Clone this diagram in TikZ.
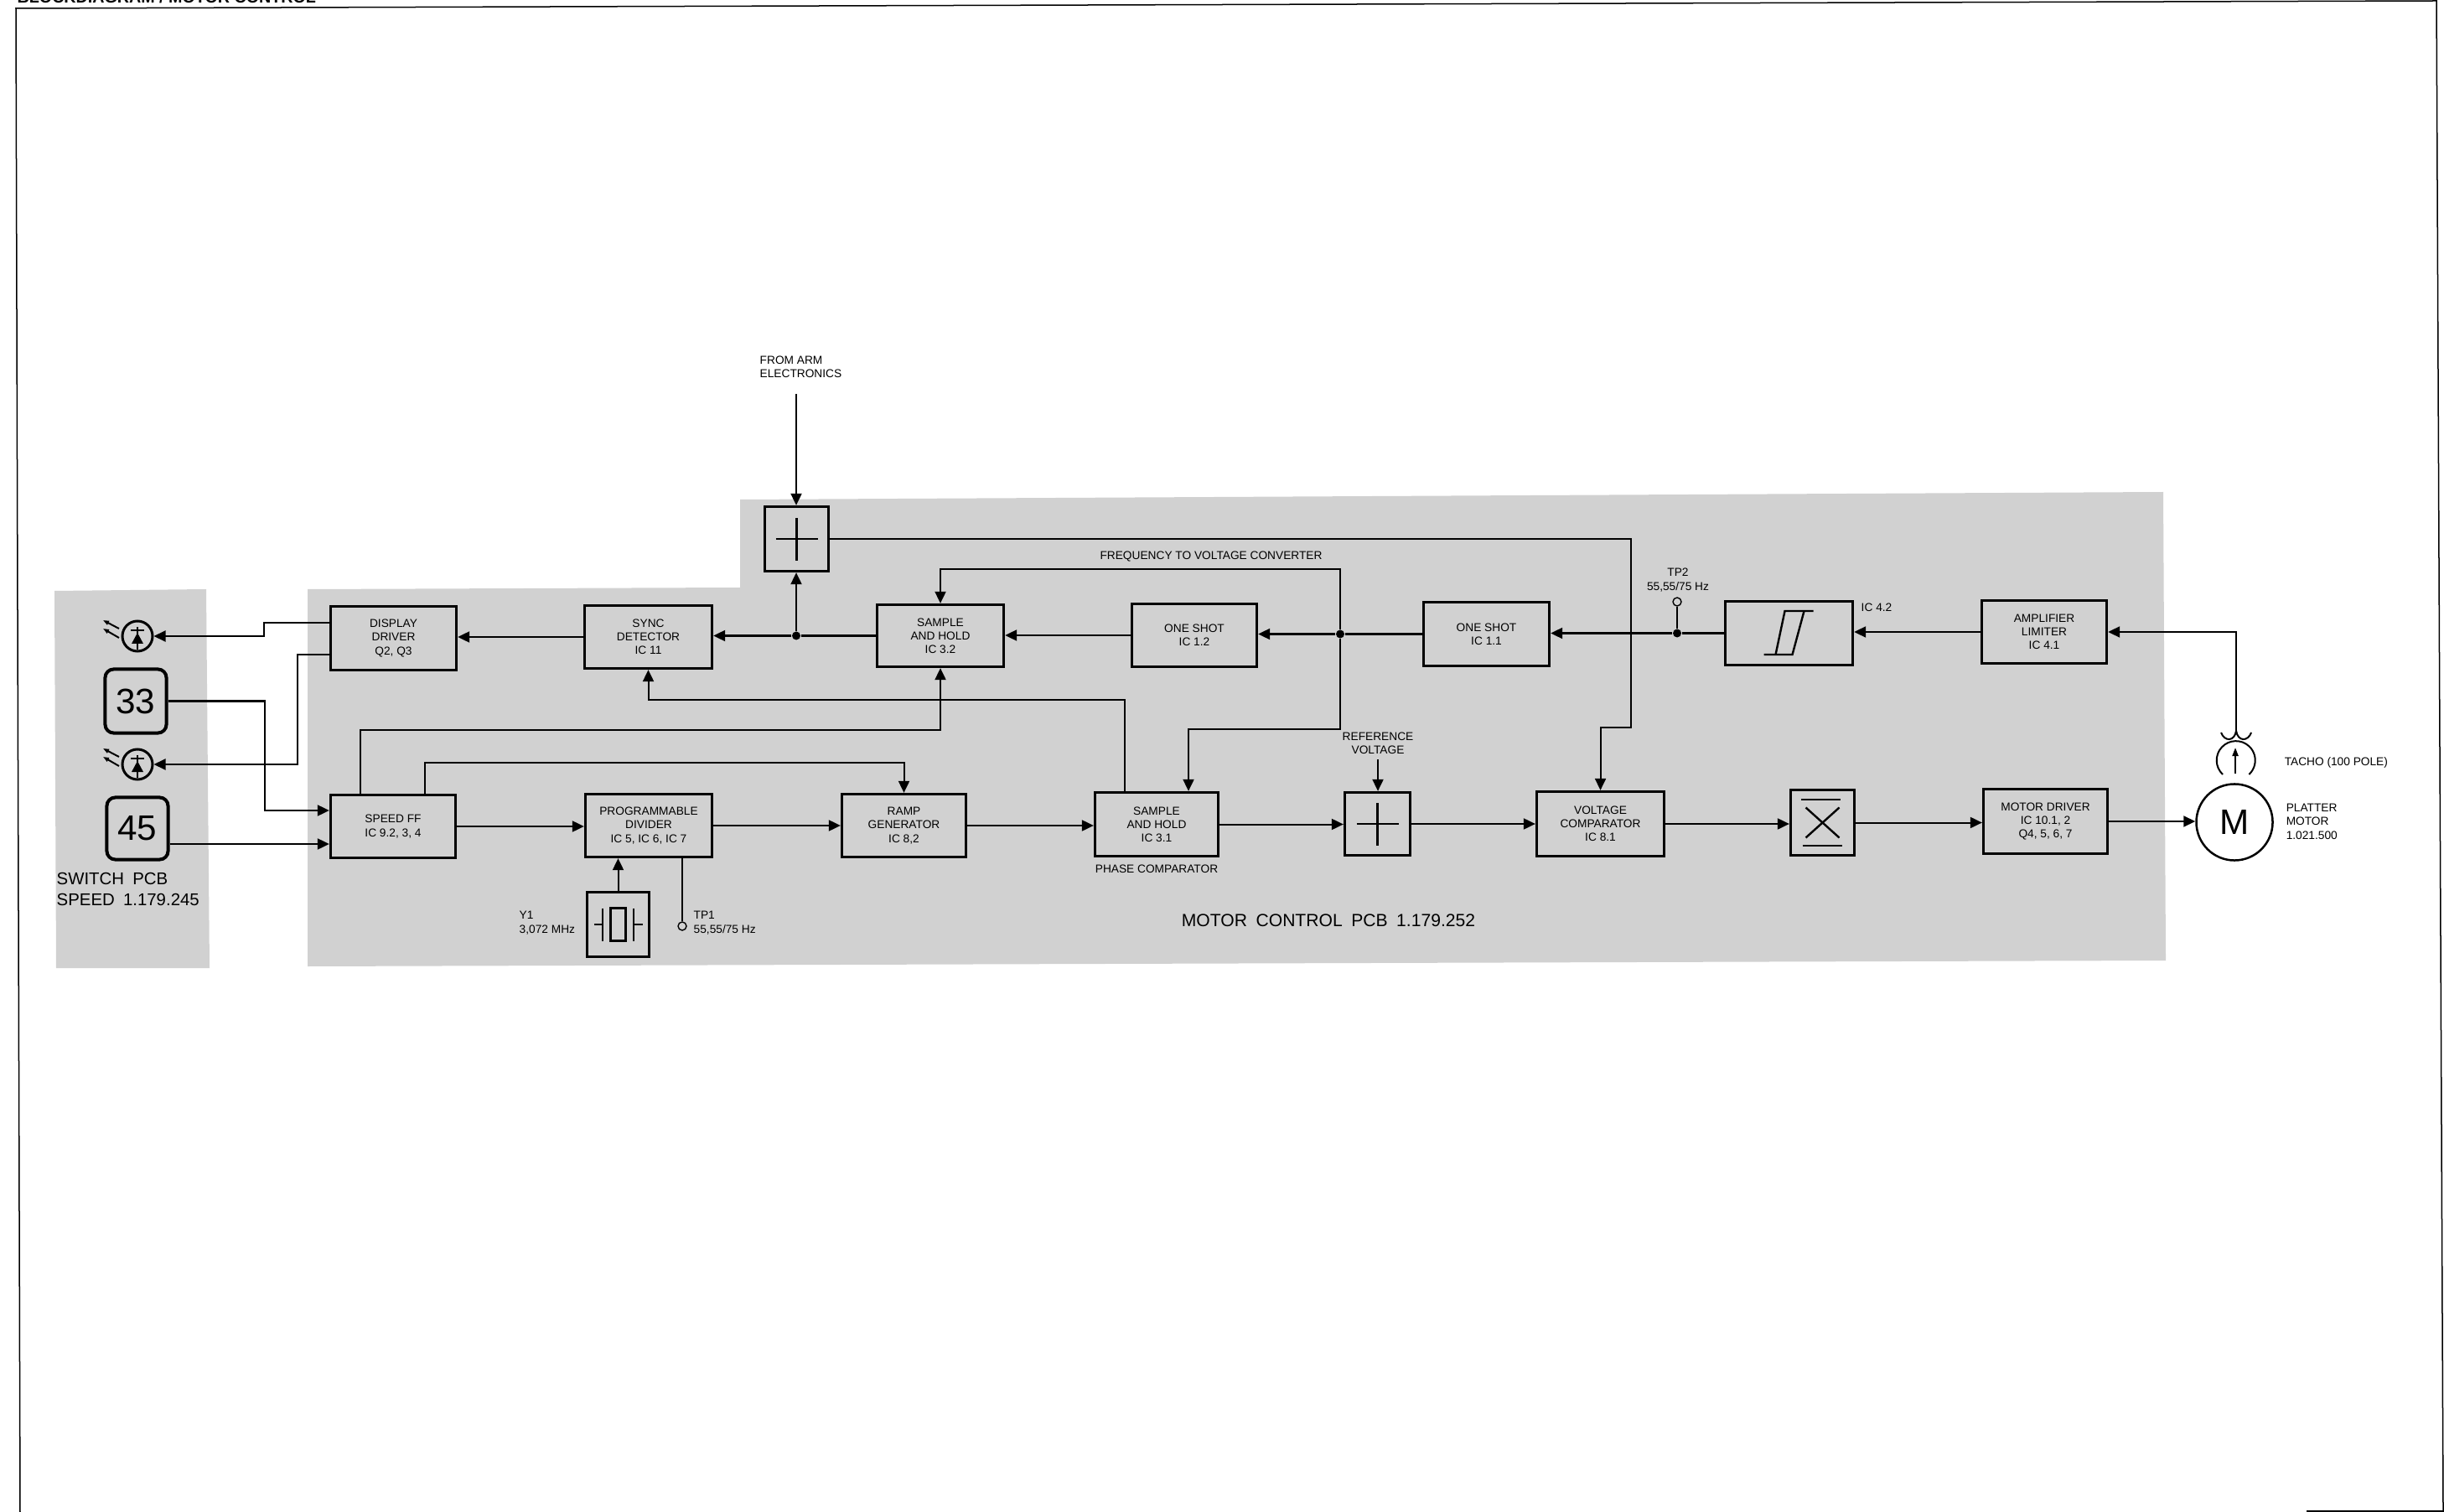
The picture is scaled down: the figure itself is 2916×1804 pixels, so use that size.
\documentclass[tikz,border=0pt]{standalone}
\usepackage{fontspec}
\setmainfont{Liberation Sans}
\usetikzlibrary{arrows.meta,shapes.geometric}
\tikzset{
  blockbox/.style={draw, line width=0.033cm, inner sep=0pt, align=center,
    font=\fontsize{3.9}{4.6}\selectfont},
  keybox/.style={draw, line width=0.04cm, rounded corners=0.1cm, inner sep=0pt,
    font=\fontsize{12}{12}\selectfont},
  lamp/.style={draw, circle, line width=0.03cm, inner sep=0pt, minimum size=0.36cm},
  junction/.style={circle, fill=black, inner sep=0pt, minimum size=0.1cm},
  testpin/.style={draw, circle, line width=0.014cm, inner sep=0pt, minimum size=0.1cm},
  wire/.style={line width=0.02cm},
  wiretip/.style={wire, -{Triangle[length=0.14cm,width=0.13cm]}},
  symline/.style={line width=0.024cm},
  note/.style={inner sep=0pt, align=center, font=\fontsize{3.9}{4.7}\selectfont},
  notel/.style={note, align=left, anchor=west},
}
\begin{document}
\begin{tikzpicture}[x=0.01cm, y=-0.01cm]
  \useasboundingbox (0,0) rectangle (2916,1804);
  \clip (0,0) rectangle (2916,1804);

  % ---- sheet frame and title ----
  \draw[line width=0.015cm] (24,1804) -- (19,10) -- (2907,1) -- (2915,1804);
  \draw[line width=0.02cm] (2752,1803) -- (2916,1803);
  \node[anchor=base west, inner sep=0pt, font=\fontsize{5.6}{6}\selectfont\bfseries]
    (sheettitle) at (20,4) {BLOCKDIAGRAM / MOTOR CONTROL};

  % ---- grey PCB panels ----
  \fill[black!18] (65,705) -- (246,703) -- (250,1155) -- (67,1155) -- cycle;
  \fill[black!18] (367,703) -- (883,701) -- (883,596) -- (2581,587)
                  -- (2584,1146) -- (367,1153) -- cycle;

  % ---- blocks ----
  \foreach \nm/\cx/\cy/\w/\h/\txt in {%
    ddrv/469.5/761.5/150/76/{DISPLAY\\DRIVER\\Q2, Q3},%
    sync/773.5/760/152/75/{SYNC\\DETECTOR\\IC 11},%
    sholdb/1122/758.5/151/74/{SAMPLE\\AND HOLD\\IC 3.2},%
    oneb/1425/758/149/75/{ONE SHOT\\IC 1.2},%
    onea/1773.5/756.5/150/76/{ONE SHOT\\IC 1.1},%
    schmitt/2134.5/755.5/152/76/{},%
    amp/2439/754/149/75/{AMPLIFIER\\LIMITER\\IC 4.1},%
    speedff/469/986/149/75/{SPEED FF\\IC 9.2, 3, 4},%
    prog/774/985/151/75/{PROGRAMMABLE\\DIVIDER\\IC 5, IC 6, IC 7},%
    ramp/1078.5/985/148/75/{RAMP\\GENERATOR\\IC 8,2},%
    sholda/1380/983.5/147/76/{SAMPLE\\AND HOLD\\IC 3.1},%
    addb/1643.5/983/78/75/{},%
    vcomp/1909.5/983/152/77/{VOLTAGE\\COMPARATOR\\IC 8.1},%
    mult/2174.5/981.5/76/78/{},%
    mdrv/2440.5/980/148/77/{MOTOR DRIVER\\IC 10.1, 2\\Q4, 5, 6, 7},%
    adda/950.5/643/76/77/{},%
    xtal/737.5/1103/74/77/{}}{%
    \node[blockbox, minimum width=\w*0.01cm, minimum height=\h*0.01cm]
      (\nm) at (\cx,\cy) {\txt};
  }

  % ---- switch panel ----
  \node[keybox, minimum width=0.73cm, minimum height=0.76cm] (keyslow) at (162,836.5) {33};
  \node[keybox, minimum width=0.73cm, minimum height=0.74cm] (keyfast) at (164,988.5) {45};
  \node[lamp] (lampa) at (164,759) {};
  \node[lamp] (lampb) at (164,912) {};
  \foreach \nm in {lampa,lampb}{%
    \begin{scope}[shift={(\nm.center)}]
      \draw[wire] (0,-11) -- (0,16);
      \draw[wire] (-8,-7) -- (8,-7);
      \fill (0,-4) -- (-7,9) -- (7,9) -- cycle;
      \draw[wire, -{Triangle[length=0.07cm,width=0.05cm]}] (-22,-9) -- (-41,-19);
      \draw[wire, -{Triangle[length=0.07cm,width=0.05cm]}] (-22,2) -- (-41,-9);
    \end{scope}
  }
  \node[notel, font=\fontsize{5.8}{6.9}\selectfont] (switchlabel) at (67,1061)
    {SWITCH\enspace PCB\\SPEED\enspace 1.179.245};

  % ---- block symbols ----
  \foreach \nm in {adda,addb}{%
    \begin{scope}[shift={(\nm.center)}]
      \draw[symline] (-25,0) -- (25,0);
      \draw[symline] (0,-25) -- (0,26);
    \end{scope}
  }
  \begin{scope}[shift={(schmitt.center)}]
    \draw[symline] (-30,25.5) -- (4,25.5) -- (18,-26.5);
    \draw[symline] (-16,25.5) -- (-5,-26.5) -- (29,-26.5);
  \end{scope}
  \begin{scope}[shift={(mult.center)}]
    \draw[symline] (-25.5,-27.5) -- (21.5,-27.5);
    \draw[symline] (-24,27.5) -- (23,27.5);
    \draw[symline] (-20,-18) -- (20,18);
    \draw[symline] (-20,18) -- (20,-18);
  \end{scope}
  \begin{scope}[shift={(xtal.center)}]
    \draw[symline] (-9,-19.5) rectangle (9,19.5);
    \draw[symline] (-18.5,-19.5) -- (-18.5,19.5);
    \draw[symline] (18.5,-19.5) -- (18.5,19.5);
    \draw[symline] (-28.5,0) -- (-18.5,0);
    \draw[symline] (18.5,0) -- (29.5,0);
  \end{scope}

  % ---- motor and tacho ----
  \node[draw, circle, line width=0.025cm, inner sep=0pt, minimum size=0.91cm,
        font=\fontsize{12}{12}\selectfont] (motor) at (2666,981) {M};
  \coordinate (tachocup) at (2668,872);
  \coordinate (tachobase) at (2667,923);
  \coordinate (tachotop) at (2667,892);
  \draw[wire] (2652,924) arc (227:-47:0.23cm);
  \draw[wire] (2650,874) .. controls (2654,885) and (2666,885) .. (tachocup)
              .. controls (2670,885) and (2682,885) .. (2686,874);
  \draw[wire, -{Triangle[length=0.1cm,width=0.07cm]}] (tachobase) -- (tachotop);

  % ---- small nodes ----
  \node[junction] (jsum) at (950,758.5) {};
  \node[junction] (jfv) at (1599,756.5) {};
  \node[junction] (jtp) at (2001,755.5) {};
  \node[testpin] (tpa) at (814,1105) {};
  \node[testpin] (tpb) at (2001,718) {};
  \coordinate (armin) at (950,470);
  \coordinate (refin) at (1644,906);

  % ---- connectors, upper row ----
  \draw[wiretip] (armin) -- (armin |- adda.north);
  \draw[wiretip] (adda.east) -| (1946,868) -| (vcomp.north);
  \draw[wiretip] (jsum) -- (jsum |- adda.south);
  \draw[wire] (sholdb.west) -- (jsum);
  \draw[wiretip] (jsum) -- (jsum -| sync.east);
  \draw[wiretip] (sync.west) -- (sync.west -| ddrv.east);
  \draw[wiretip] (oneb.west) -- (oneb.west -| sholdb.east);
  \draw[wire] (onea.west) -- (jfv);
  \draw[wiretip] (jfv) -- (jfv -| oneb.east);
  \draw[wiretip] (jfv) |- (sholdb.north |- 0,679) -- (sholdb.north);
  \draw[wiretip] (jfv) |- (1418,870) -- (sholda.north -| 1418,0);
  \draw[wire] (schmitt.west) -- (jtp);
  \draw[wiretip] (jtp) -- (jtp -| onea.east);
  \draw[wire] (jtp) -- (tpb);
  \draw[wiretip] (amp.west) -- (amp.west -| schmitt.east);
  \draw[wiretip] (tachocup) |- (amp.east);

  % ---- connectors, lower row ----
  \draw[wiretip] (speedff.east) -- (speedff.east -| prog.west);
  \draw[wiretip] (prog.east) -- (prog.east -| ramp.west);
  \draw[wiretip] (ramp.east) -- (ramp.east -| sholda.west);
  \draw[wiretip] (sholda.east) -- (sholda.east -| addb.west);
  \draw[wiretip] (addb.east) -- (addb.east -| vcomp.west);
  \draw[wiretip] (vcomp.east) -- (vcomp.east -| mult.west);
  \draw[wiretip] (mult.east) -- (mult.east -| mdrv.west);
  \draw[wiretip] (mdrv.east) -- (mdrv.east -| motor.west);
  \draw[wiretip] (refin) -- (refin |- addb.north);
  \draw[wiretip] (xtal.north) -- (xtal.north |- prog.south);
  \draw[wire] (prog.south -| 814,0) -- (tpa.north);

  % ---- connectors between the rows ----
  \draw[wiretip] (sholda.north -| 1342,0) |- (sync.south |- 0,835) -- (sync.south);
  \draw[wiretip] (speedff.north -| 430,0) |- (sholdb.south |- 0,871) -- (sholdb.south);
  \draw[wiretip] (speedff.north -| 507,0) |- (ramp.north |- 0,910) -- (ramp.north);

  % ---- connectors to the switch panel ----
  \draw[wiretip] (ddrv.west |- 0,743) -| (315,759) -- (lampa.east);
  \draw[wiretip] (ddrv.west |- 0,781) -| (355,912) -- (lampb.east);
  \draw[wiretip] (keyslow.east) -| (316,967) -- (speedff.west |- 0,967);
  \draw[wiretip] (keyfast.east |- 0,1007) -- (speedff.west |- 0,1007);

  % ---- labels ----
  \node[notel] (armlabel) at (906,438) {FROM ARM\\ELECTRONICS};
  \node[note] (fvlabel) at (1445,664) {FREQUENCY TO VOLTAGE CONVERTER};
  \node[note] (reflabel) at (1644,887) {REFERENCE\\VOLTAGE};
  \node[note] (phaselabel) at (1380,1037) {PHASE COMPARATOR};
  \node[note] (tpblabel) at (2002,692) {TP2\\55,55/75 Hz};
  \node[notel] (tpalabel) at (827,1101) {TP1\\55,55/75 Hz};
  \node[notel] (xtallabel) at (619,1101) {Y1\\3,072 MHz};
  \node[notel] (iclabel) at (2220,725) {IC 4.2};
  \node[notel] (tacholabel) at (2725,910) {TACHO (100 POLE)};
  \node[notel] (motorlabel) at (2727,980) {PLATTER\\MOTOR\\1.021.500};
  \node[note, font=\fontsize{6}{7}\selectfont] (pcblabel) at (1585,1098)
    {MOTOR\enspace CONTROL\enspace PCB\enspace 1.179.252};
\end{tikzpicture}
\end{document}
